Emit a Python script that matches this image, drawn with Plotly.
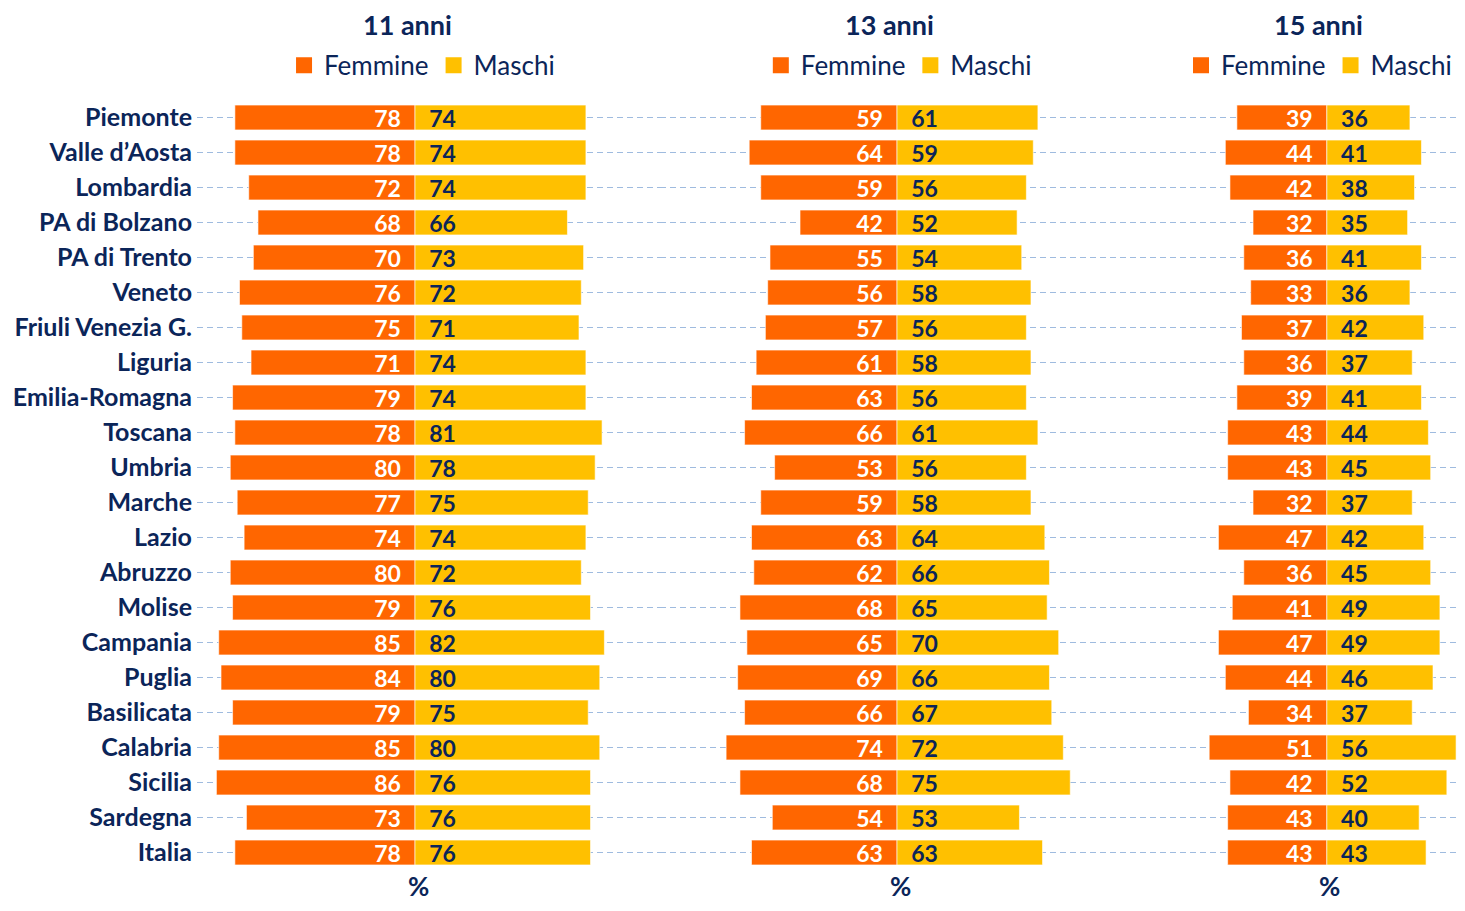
import plotly.graph_objects as go

regioni = ['Piemonte', 'Valle d\u2019Aosta', 'Lombardia', 'PA di Bolzano', 'PA di Trento',
           'Veneto', 'Friuli Venezia G.', 'Liguria', 'Emilia-Romagna', 'Toscana',
           'Umbria', 'Marche', 'Lazio', 'Abruzzo', 'Molise', 'Campania', 'Puglia',
           'Basilicata', 'Calabria', 'Sicilia', 'Sardegna', 'Italia']

femmine_11 = [78, 78, 72, 68, 70, 76, 75, 71, 79, 78, 80, 77, 74, 80, 79, 85, 84, 79, 85, 86, 73, 78]
maschi_11 = [74, 74, 74, 66, 73, 72, 71, 74, 74, 81, 78, 75, 74, 72, 76, 82, 80, 75, 80, 76, 76, 76]

femmine_13 = [59, 64, 59, 42, 55, 56, 57, 61, 63, 66, 53, 59, 63, 62, 68, 65, 69, 66, 74, 68, 54, 63]
maschi_13 = [61, 59, 56, 52, 54, 58, 56, 58, 56, 61, 56, 58, 64, 66, 65, 70, 66, 67, 72, 75, 53, 63]

femmine_15 = [39, 44, 42, 32, 36, 33, 37, 36, 39, 43, 43, 32, 47, 36, 41, 47, 44, 34, 51, 42, 43, 43]
maschi_15 = [36, 41, 38, 35, 41, 36, 42, 37, 41, 44, 45, 37, 42, 45, 49, 49, 46, 37, 56, 52, 40, 43]

pannelli = ['11 anni', '13 anni', '15 anni']

ORANGE = '#FF6600'
YELLOW = '#FFC000'
NAVY = '#0B2559'
FONT = 'Lato'
NBSP = '\u00a0'

fig = go.Figure()

dati = [(femmine_11, maschi_11), (femmine_13, maschi_13), (femmine_15, maschi_15)]
for i, (fem, mas) in enumerate(dati):
    xa = 'x' if i == 0 else f'x{i + 1}'
    lg = 'legend' if i == 0 else f'legend{i + 1}'
    fig.add_trace(go.Bar(
        y=regioni, x=[-v for v in fem], orientation='h', name='Femmine',
        marker=dict(color=ORANGE, line=dict(color='rgba(255,255,255,0.6)', width=1)),
        text=[f'{v}' + NBSP * 2 for v in fem], textposition='inside',
        insidetextanchor='start', constraintext='none',
        textfont=dict(family=FONT, size=23, color='white', weight='bold'),
        xaxis=xa, yaxis='y', showlegend=False,
    ))
    fig.add_trace(go.Bar(
        y=regioni, x=mas, orientation='h', name='Maschi',
        marker=dict(color=YELLOW, line=dict(color='rgba(255,255,255,0.6)', width=1)),
        text=[NBSP * 2 + f'{v}' for v in mas], textposition='inside',
        insidetextanchor='start', constraintext='none',
        textfont=dict(family=FONT, size=23, color=NAVY, weight='bold'),
        xaxis=xa, yaxis='y', showlegend=False,
    ))
    # legend-only entries with larger square symbols
    for nome, col in (('Femmine', ORANGE), ('Maschi', YELLOW)):
        fig.add_trace(go.Scatter(
            x=[None], y=[None], mode='markers', name=nome,
            marker=dict(symbol='square', size=16, color=col),
            xaxis=xa, yaxis='y', legend=lg, hoverinfo='skip',
        ))

xcommon = dict(showgrid=False, zeroline=False, showticklabels=False, showline=False, fixedrange=True)
legcommon = dict(orientation='h', yanchor='middle', y=1.045,
                 font=dict(family=FONT, size=26, color=NAVY), bgcolor='rgba(0,0,0,0)',
                 itemclick=False, itemwidth=30, tracegroupgap=0)

annotations = []
for i, p in enumerate(pannelli):
    xr = 'x' if i == 0 else f'x{i + 1}'
    annotations.append(dict(text=f'<b>{p}</b>', xref=xr, yref='paper', x=0, y=1.098, xshift=-8,
                            yanchor='middle', showarrow=False,
                            font=dict(family=FONT, size=27, color=NAVY)))
    annotations.append(dict(text='<b>%</b>', xref=xr, yref='paper', x=0, y=-0.0214, xshift=3,
                            yanchor='middle', showarrow=False,
                            font=dict(family=FONT, size=26, color=NAVY)))

fig.update_layout(
    width=1449, height=895,
    margin=dict(l=189, r=0, t=92, b=33),
    paper_bgcolor='white', plot_bgcolor='white',
    barmode='relative', bargap=0.29,
    xaxis=dict(domain=[0, 0.3675], range=[-94.4, 106.1], **xcommon),
    xaxis2=dict(domain=[0.3675, 0.7167], range=[-102.6, 87.9], **xcommon),
    xaxis3=dict(domain=[0.7167, 1], range=[-98.3, 56.4], **xcommon),
    yaxis=dict(autorange='reversed', showgrid=True, gridcolor='#9FBBDF', griddash='6px,4px',
               gridwidth=1, zeroline=False, ticks='', ticklabelstandoff=4,
               tickfont=dict(family=FONT, size=25, color=NAVY, weight='bold')),
    legend=dict(x=0.1786, xanchor='center', **legcommon),
    legend2=dict(x=0.557, xanchor='center', **legcommon),
    legend3=dict(x=1.0, xanchor='right', **legcommon),
    annotations=annotations,
    font=dict(family=FONT, color=NAVY),
)

fig.write_html('out.html')
